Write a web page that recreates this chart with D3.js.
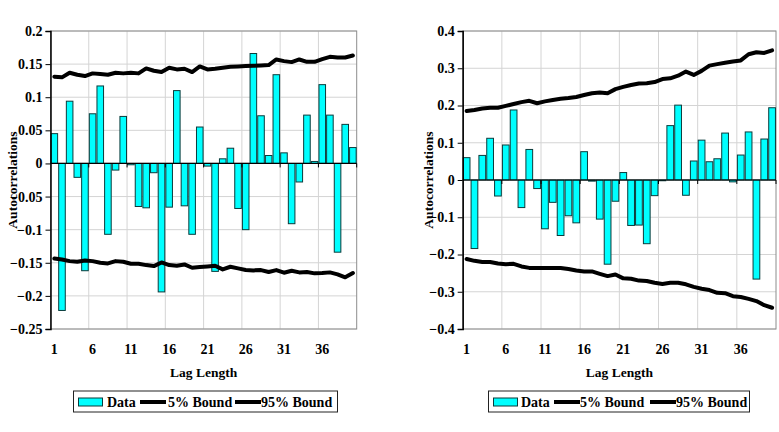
<!DOCTYPE html>
<html><head><meta charset="utf-8">
<script src="https://cdn.jsdelivr.net/npm/d3@7"></script>
<style>
html,body{margin:0;padding:0;background:#fff;}
svg text{font-family:"Liberation Serif","Times New Roman",serif;font-weight:bold;fill:#000;}
</style></head>
<body>
<svg id="chart" width="779" height="432"></svg>
<script>
const lags = d3.range(1, 41);
const xTickLabels = ["1","6","11","16","21","26","31","36"];
const leftYTicks = [0.2,0.15,0.1,0.05,0,-0.05,-0.1,-0.15,-0.2,-0.25];
const rightYTicks = [0.4,0.3,0.2,0.1,0,-0.1,-0.2,-0.3,-0.4];

const leftData = [0.045,-0.222,0.094,-0.021,-0.162,0.075,0.117,-0.107,-0.010,0.071,
  -0.002,-0.065,-0.067,-0.014,-0.194,-0.066,0.110,-0.064,-0.107,0.055,
  -0.004,-0.163,0.007,0.023,-0.068,-0.100,0.166,0.072,0.012,0.134,
  0.016,-0.091,-0.028,0.073,0.003,0.119,0.073,-0.134,0.059,0.024];
const leftLower = [-0.1435,-0.145,-0.1475,-0.1485,-0.1465,-0.1475,-0.150,-0.151,-0.1475,-0.1485,
  -0.1515,-0.1515,-0.1535,-0.155,-0.1495,-0.1535,-0.1545,-0.1525,-0.1575,-0.1565,
  -0.1555,-0.1545,-0.160,-0.156,-0.1585,-0.161,-0.1615,-0.161,-0.164,-0.161,
  -0.165,-0.162,-0.1645,-0.164,-0.166,-0.1655,-0.1645,-0.1675,-0.172,-0.1655];
const leftUpper = [0.131,0.130,0.137,0.134,0.132,0.136,0.135,0.134,0.137,0.136,
  0.137,0.136,0.1435,0.140,0.138,0.1445,0.142,0.143,0.138,0.1465,
  0.142,0.143,0.1445,0.146,0.1465,0.147,0.1475,0.148,0.1485,0.157,
  0.1545,0.153,0.157,0.1535,0.1535,0.1575,0.161,0.160,0.160,0.163];

const rightData = [0.060,-0.184,0.066,0.112,-0.043,0.094,0.188,-0.074,0.082,-0.023,
  -0.131,-0.060,-0.149,-0.096,-0.115,0.076,-0.003,-0.105,-0.226,-0.057,
  0.020,-0.122,-0.121,-0.171,-0.042,-0.002,0.146,0.201,-0.041,0.051,
  0.107,0.049,0.057,0.126,-0.005,0.067,0.129,-0.266,0.110,0.194];
const rightLower = [-0.212,-0.217,-0.220,-0.220,-0.224,-0.226,-0.225,-0.232,-0.236,-0.236,
  -0.236,-0.236,-0.236,-0.239,-0.243,-0.2455,-0.2455,-0.252,-0.258,-0.2535,
  -0.264,-0.265,-0.270,-0.271,-0.276,-0.279,-0.276,-0.276,-0.280,-0.287,
  -0.292,-0.2955,-0.303,-0.304,-0.312,-0.314,-0.319,-0.325,-0.336,-0.343];
const rightUpper = [0.185,0.188,0.192,0.194,0.194,0.199,0.204,0.209,0.2125,0.206,
  0.211,0.215,0.218,0.220,0.223,0.228,0.233,0.235,0.233,0.244,
  0.250,0.255,0.259,0.260,0.263,0.271,0.273,0.280,0.291,0.282,
  0.293,0.307,0.311,0.315,0.318,0.321,0.3375,0.343,0.341,0.348];

const legendItems = ["Data","5% Bound","95% Bound"];

const svg = d3.select("#chart");
const FONT = "'Liberation Serif','Times New Roman',serif";

function drawPanel(cfg){
  const g = svg.append("g");
  const x = d3.scaleBand().domain(lags).range([cfg.x0, cfg.x1]).paddingInner(0.14).paddingOuter(0.07);
  const y = d3.scaleLinear().domain(cfg.domain).range([cfg.y1, cfg.y0]);
  const step = x.step();
  const xb = i => cfg.x0 + i*step; // boundary after i categories

  // horizontal gridlines
  g.selectAll(".hg").data(cfg.yTicks).enter().append("line")
    .attr("x1", cfg.x0).attr("x2", cfg.x1)
    .attr("y1", d=>y(d)).attr("y2", d=>y(d))
    .attr("stroke", "#d4d4d4").attr("stroke-width", 1);
  // vertical gridlines every 5 lags
  const vb = d3.range(5, 40, 5);
  g.selectAll(".vg").data(vb).enter().append("line")
    .attr("x1", d=>xb(d)).attr("x2", d=>xb(d))
    .attr("y1", cfg.y0).attr("y2", cfg.y1)
    .attr("stroke", "#d4d4d4").attr("stroke-width", 1);
  // plot border
  g.append("rect").attr("x", cfg.x0).attr("y", cfg.y0)
    .attr("width", cfg.x1-cfg.x0).attr("height", cfg.y1-cfg.y0)
    .attr("fill", "none").attr("stroke", "#8c8c8c").attr("stroke-width", 1);

  // bars
  g.selectAll(".bar").data(cfg.data).enter().append("rect")
    .attr("x", (d,i)=>x(lags[i]))
    .attr("width", x.bandwidth())
    .attr("y", d=>y(Math.max(0,d)))
    .attr("height", d=>Math.abs(y(d)-y(0)))
    .attr("fill", "#00ffff").attr("stroke", "#0b3b3b").attr("stroke-width", 1);

  // zero axis
  g.append("line").attr("x1", cfg.x0).attr("x2", cfg.x1)
    .attr("y1", y(0)).attr("y2", y(0)).attr("stroke", "#000").attr("stroke-width", 1.2);
  g.selectAll(".zt").data(vb.concat([40])).enter().append("line")
    .attr("x1", d=>xb(d)).attr("x2", d=>xb(d))
    .attr("y1", y(0)).attr("y2", y(0)+4).attr("stroke", "#000").attr("stroke-width", 1);

  // bound lines
  const line = d3.line().x((d,i)=>x(lags[i]) + x.bandwidth()/2).y(d=>y(d));
  [cfg.lower, cfg.upper].forEach(arr=>{
    g.append("path").datum(arr).attr("d", line)
      .attr("fill","none").attr("stroke","#000").attr("stroke-width",4)
      .attr("stroke-linejoin","round").attr("stroke-linecap","round");
  });

  // y axis
  const yAxis = d3.axisLeft(y).tickValues(cfg.yTicks).tickSize(5).tickPadding(3)
    .tickFormat(d=> d===0 ? "0" : d3.format("")(+d.toFixed(2)));
  const ya = g.append("g").attr("transform", `translate(${cfg.x0},0)`).call(yAxis)
    .attr("font-family", FONT).attr("font-size", 14);
  ya.select(".domain").attr("stroke","#000").attr("stroke-width",1.5);
  ya.selectAll(".tick line").attr("stroke","#000");
  ya.selectAll("text").style("font-size","14px").style("font-weight","bold");

  // x tick labels (at bottom)
  const xLabelScale = d3.scaleBand().domain(lags.map(String)).range([cfg.x0, cfg.x1]);
  g.selectAll(".xl").data(xTickLabels).enter().append("text")
    .attr("x", d=>xLabelScale(d) + xLabelScale.bandwidth()/2)
    .attr("y", cfg.y1 + 25)
    .attr("text-anchor","middle").style("font-size","14px").text(d=>d);

  // axis titles
  g.append("text").attr("x", (cfg.x0+cfg.x1)/2).attr("y", cfg.y1 + 48)
    .attr("text-anchor","middle").style("font-size","13.5px").text("Lag Length");
  g.append("text").attr("transform", `translate(${cfg.titleX},${(cfg.y0+cfg.y1)/2}) rotate(-90)`)
    .attr("text-anchor","middle").attr("dy","0.35em").style("font-size","13.5px").text("Autocorrelations");

  // legend
  const L = cfg.legend;
  const lg = g.append("g");
  lg.append("rect").attr("x", L.x).attr("y", 391).attr("width", L.w).attr("height", 21)
    .attr("fill","#fff").attr("stroke","#222").attr("stroke-width",1);
  lg.append("rect").attr("x", L.sw).attr("y", 398).attr("width", 24).attr("height", 8)
    .attr("fill","#00ffff").attr("stroke","#0b3b3b").attr("stroke-width",1);
  lg.append("text").attr("x", L.t[0]).attr("y", 407).style("font-size","14px").text(legendItems[0]);
  [1,2].forEach(k=>{
    lg.append("line").attr("x1", L.l[k-1]).attr("x2", L.l[k-1]+26).attr("y1",402).attr("y2",402)
      .attr("stroke","#000").attr("stroke-width",4);
    lg.append("text").attr("x", L.t[k]).attr("y", 407).style("font-size","14px").text(legendItems[k]);
  });
}

drawPanel({x0:50.5, x1:356.7, y0:31, y1:329, domain:[-0.25,0.2], yTicks:leftYTicks,
  data:leftData, lower:leftLower, upper:leftUpper, titleX:12,
  legend:{x:73.5, w:264, sw:78.5, t:[107,168,261], l:[140,235]}});
drawPanel({x0:462.7, x1:776, y0:31, y1:329, domain:[-0.4,0.4], yTicks:rightYTicks,
  data:rightData, lower:rightLower, upper:rightUpper, titleX:428,
  legend:{x:488.5, w:261, sw:493.5, t:[521,580,676], l:[554,650]}});
</script>
</body></html>
